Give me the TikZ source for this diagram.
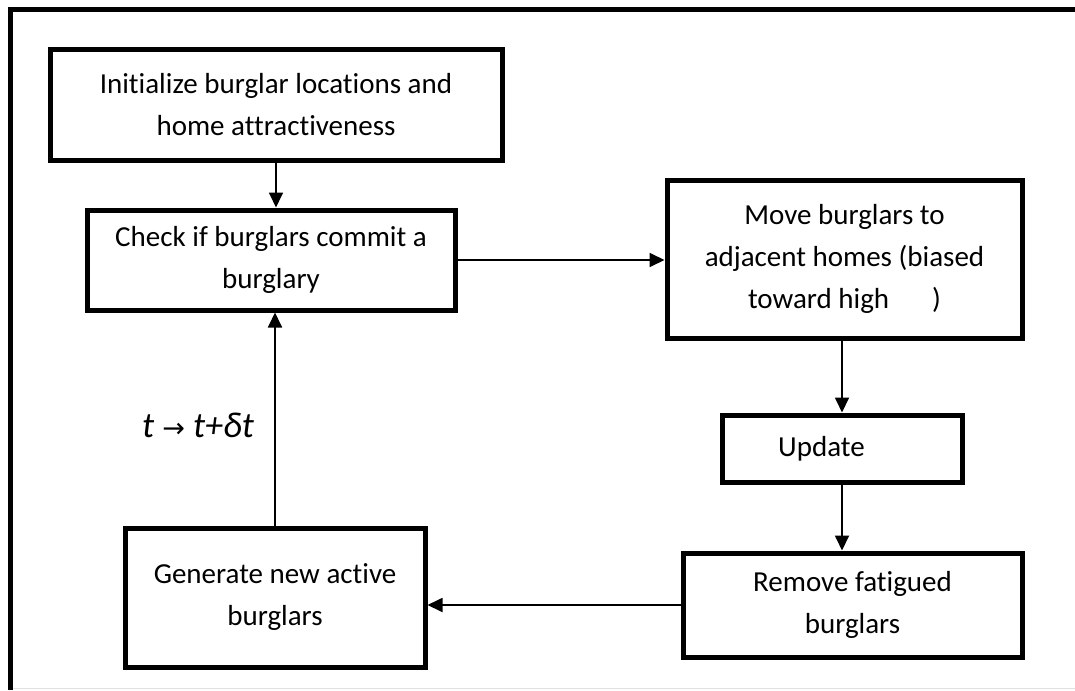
\documentclass[tikz,border=0pt]{standalone}
\usepackage{fontspec}
\setmainfont{Carlito}[Ligatures={NoCommon}]
\newfontfamily\arrowfont{DejaVu Sans}
\usetikzlibrary{arrows.meta}
\begin{document}
\begin{tikzpicture}[x=1pt,y=-1pt,
  box/.style={draw, line width=5pt, rectangle, inner sep=0pt, align=center,
    font=\fontsize{29}{42}\selectfont},
  plainbox/.style={draw, line width=5pt, rectangle, inner sep=0pt,
    font=\fontsize{29}{42}\selectfont},
  conn/.style={line width=1.8pt, -{Triangle[length=15pt,width=14pt]}}]
\useasboundingbox (0,0) rectangle (1075,690);
\fill[white] (0,0) rectangle (1075,690);
% outer frame
\draw[line width=5pt] (10.5,690) -- (10.5,9.5) -- (1075,9.5);
\draw[black!12, line width=1.5pt] (13,688.5) -- (1075,688.5);
% boxes
\node[box, minimum width=452pt, minimum height=110pt] (init) at (276,105)
  {Initialize burglar locations and\\home attractiveness};
\node[box, minimum width=368pt, minimum height=100pt] (check) at (271,260)
  {Check if burglars commit a\\burglary};
\node[box, minimum width=355pt, minimum height=158pt] (move) at (844.5,259)
  {Move burglars to\\adjacent homes (biased\\toward high\hspace{43pt})};
\node[plainbox, minimum width=240pt, minimum height=67pt] (update) at (842,448.5)
  {Update\makebox[41pt]{}};
\node[box, minimum width=339pt, minimum height=104pt] (remove) at (852.5,605)
  {Remove fatigued\\burglars};
\node[box, minimum width=300pt, minimum height=139pt] (gen) at (275,597.5)
  {Generate new active\\burglars};
% label
\node[font=\fontsize{36}{36}\selectfont\itshape] (lbl) at (198,425)
  {t {\upshape\arrowfont\fontsize{27}{27}\selectfont →} t+δt};
% connectors
\draw[conn] (init.south) -- (init.south |- check.north);
\draw[conn] (check.east) -- (check.east -| move.west);
\draw[conn] (move.south -| update.north) -- (update.north);
\draw[conn] (update.south) -- (update.south |- remove.north);
\draw[conn] (remove.west) -- (remove.west -| gen.east);
\draw[conn] (gen.north) -- (gen.north |- check.south);
\end{tikzpicture}
\end{document}
